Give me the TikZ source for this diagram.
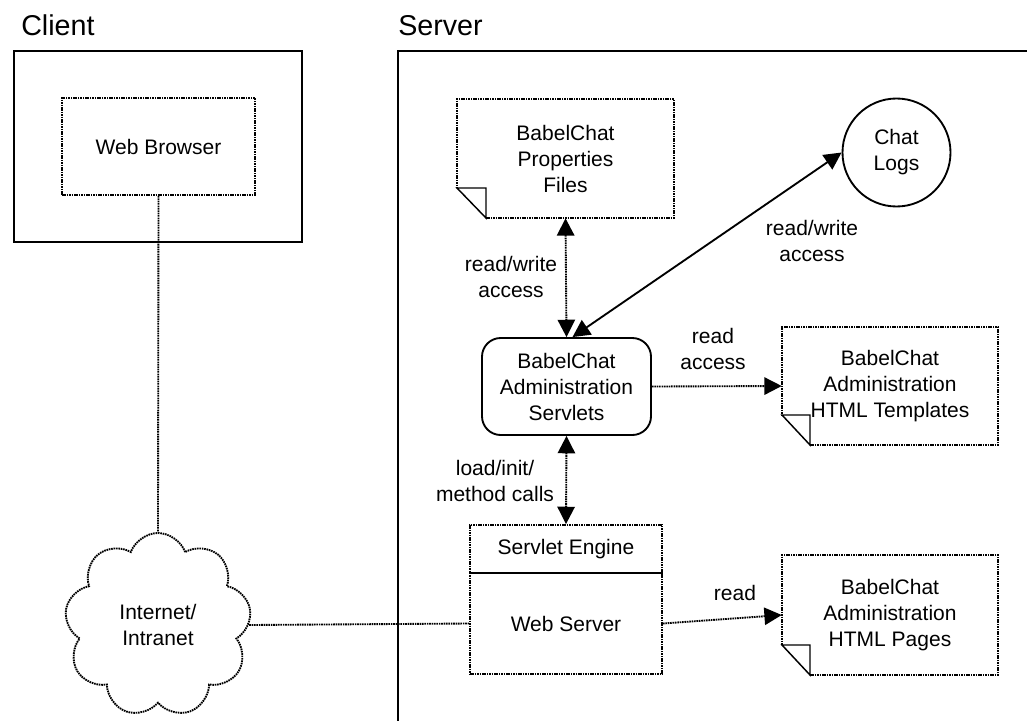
\documentclass[tikz,border=0pt]{standalone}
\usepackage{fontspec}
\setmainfont{Liberation Sans}
\usetikzlibrary{arrows.meta}
\usetikzlibrary{shapes.symbols}

\begin{document}
\begin{tikzpicture}[x=0.75pt,y=0.75pt,yscale=-1,xscale=1,
  font=\fontsize{15.75pt}{19.5pt}\selectfont,
  dotline/.style={line width=1.4pt, dash pattern=on 1.2pt off 0.6pt},
  solidline/.style={line width=1.4pt},
  fold/.style={line width=1.1pt},
  tip/.style={-{Triangle[length=13pt,width=13pt]}},
  twotips/.style={{Triangle[length=13pt,width=13pt]}-{Triangle[length=13pt,width=13pt]}},
  lbl/.style={align=center, inner sep=0.75pt}]
\useasboundingbox (0,0) rectangle (1027,721);

% Titles
\node (clienttitle) at (21,35) [anchor=base west, inner sep=0pt, font=\fontsize{21.5pt}{25pt}\selectfont] {Client};
\node (servertitle) at (398,35) [anchor=base west, inner sep=0pt, font=\fontsize{21.5pt}{25pt}\selectfont] {Server};

%Shape: Rectangle [client]
\draw [solidline] (14,51) rectangle (302,242);
%Straight Lines [server frame]
\draw [solidline] (1027,51) -- (398,51) -- (398,721);

% Web Browser
\node (browser) at (158.5,146.5) [draw, dotline, minimum width=144.75pt, minimum height=72.75pt, inner sep=0pt] {Web Browser};

% Cloud
\node (net) at (158,625) [cloud, cloud puffs=9, cloud puff arc=140, aspect=1, draw, dotline, minimum width=140pt, minimum height=138pt, align=center, inner sep=0pt] {Internet/\\Intranet};

% Properties files
\node (props) at (565.5,158.5) [minimum width=162.75pt, minimum height=89.25pt, align=center, inner sep=0pt] {BabelChat\\Properties\\Files};
%Shape: Document
\draw [dotline] (486,218) -- (674,218) -- (674,99) -- (457,99) -- (457,188);
\draw [fold] (457,188) -- (486,188) -- (486,218) -- cycle;

% Chat logs
\node (logs) at (896.5,152.5) [circle, draw, solidline, minimum size=81pt, align=center, inner sep=0pt] {Chat\\Logs};

% Administration servlets
\node (admin) at (566.5,386.5) [draw, solidline, rounded corners=14pt, minimum width=126.75pt, minimum height=72.75pt, align=center, inner sep=0pt] {BabelChat\\Administration\\Servlets};

% HTML templates
\node (tmpl) at (890,386) [minimum width=162pt, minimum height=88.5pt, align=center, inner sep=0pt] {BabelChat\\Administration\\HTML Templates};
%Shape: Document
\draw [dotline] (810,445) -- (998,445) -- (998,327) -- (782,327) -- (782,415);
\draw [fold] (782,415) -- (810,415) -- (810,445) -- cycle;

% Servlet engine / web server
\node (engine) at (566,549) [draw, dotline, minimum width=144pt, minimum height=36pt, inner sep=0pt] {Servlet Engine};
\node (webserver) at (566,623.5) [draw, dotline, minimum width=144pt, minimum height=75.75pt, inner sep=0pt] {Web Server};

% HTML pages
\node (pages) at (890,615) [minimum width=162pt, minimum height=90pt, align=center, inner sep=0pt] {BabelChat\\Administration\\HTML Pages};
%Shape: Document
\draw [dotline] (810,675) -- (998,675) -- (998,555) -- (782,555) -- (782,645);
\draw [fold] (782,645) -- (810,645) -- (810,675) -- cycle;

% Connectors
\draw [dotline] (browser.south) -- (net.north);
\draw [dotline] (net.east) -- (webserver.west);
\draw [dotline, twotips] (props.south) -- (admin.north);
\draw [solidline, twotips] ([xshift=4.5pt]admin.north) -- (logs.west);
\draw [dotline, tip] (admin.east) -- (tmpl.west);
\draw [dotline, twotips] (admin.south) -- (engine.north);
\draw [dotline, tip] (webserver.east) -- (pages.west);

% Text Node
\node (rwleft) at (511,277) [lbl] {read/write\\access};
\node (rwright) at (812,241) [lbl] {read/write\\access};
\node (readacc) at (713,349) [lbl] {read\\access};
\node (calls) at (495,481) [lbl] {load/init/\\method calls};
\node (readpg) at (735,593) [lbl] {read};

\end{tikzpicture}
\end{document}
